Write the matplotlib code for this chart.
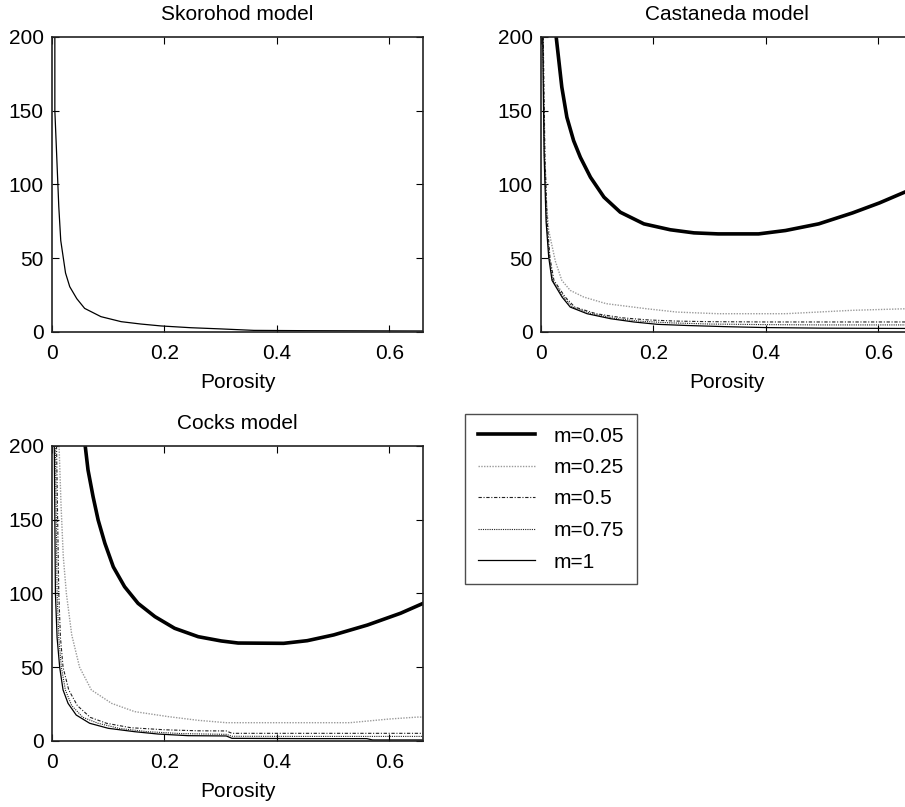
#!/usr/bin/env python3
"""Skorohod / Castaneda / Cocks model curves vs porosity, MATLAB-style panels."""

import matplotlib
matplotlib.use("Agg")
import matplotlib.pyplot as plt

plt.rcParams["font.family"] = ["Liberation Sans", "DejaVu Sans"]
plt.rcParams["font.size"] = 15

# --- Skorohod model (single curve) ---
sk_x = [0.0050, 0.0050, 0.0077, 0.012, 0.0155, 0.024, 0.0315, 0.044, 0.058, 0.087,
        0.123, 0.158, 0.194, 0.247, 0.300, 0.359, 0.45, 0.55, 0.66]
sk_y = [200, 150, 125, 85, 62, 40, 30.7, 22.6, 16, 10.4,
        7, 5.4, 4.1, 2.9, 2.1, 1.1, 0.9, 0.8, 0.7]

# --- Castaneda model ---
ca_x05 = [0.027, 0.037, 0.046, 0.058, 0.070, 0.088, 0.112, 0.141, 0.183, 0.230,
          0.272, 0.315, 0.387, 0.435, 0.494, 0.554, 0.602, 0.653, 0.66]
ca_y05 = [200, 166, 145.6, 129.7, 118.4, 104.9, 91.4, 81.2, 73.3, 69.3,
          67.2, 66.5, 66.5, 68.8, 73.3, 80.7, 87.5, 95.8, 97]
ca_x25 = [0.003, 0.006, 0.009, 0.0137, 0.0255, 0.037, 0.052, 0.076, 0.116, 0.187,
          0.242, 0.315, 0.435, 0.554, 0.653, 0.66]
ca_y25 = [200, 130, 91, 68.8, 48, 35, 28.2, 23.7, 19.2, 15.8,
          13.5, 12.4, 12.4, 14.7, 15.8, 16]
ca_x50 = [0.004, 0.007, 0.011, 0.016, 0.023, 0.043, 0.060, 0.098, 0.145, 0.19,
          0.24, 0.30, 0.40, 0.50, 0.66]
ca_y50 = [200, 120, 75, 50, 35, 23.7, 16.9, 12.4, 9.6, 8.2,
          7.4, 7.0, 6.8, 6.8, 6.8]
ca_x75 = [0.0035, 0.006, 0.010, 0.015, 0.021, 0.040, 0.056, 0.090, 0.135, 0.18,
          0.23, 0.30, 0.40, 0.50, 0.66]
ca_y75 = [200, 120, 75, 50, 35, 23.7, 16.9, 12.4, 9, 7.2,
          6.2, 5.4, 5.0, 4.8, 4.8]
ca_x1 = [0.003, 0.0055, 0.009, 0.0137, 0.0196, 0.0374, 0.052, 0.082, 0.124, 0.165,
         0.207, 0.26, 0.33, 0.40, 0.50, 0.66]
ca_y1 = [200, 120, 75, 50.7, 35, 23.7, 16.9, 12.4, 9, 6.8,
         5.2, 4.4, 3.6, 3.0, 2.6, 2.4]

# --- Cocks model ---
co_x05 = [0.059, 0.064, 0.073, 0.082, 0.094, 0.109, 0.129, 0.153, 0.183, 0.218,
          0.260, 0.301, 0.331, 0.412, 0.454, 0.501, 0.561, 0.620, 0.660]
co_y05 = [200, 183.7, 165.6, 149.8, 134, 118, 104.6, 93.3, 84.3, 76.4,
          70.7, 67.8, 66.4, 66.2, 68, 71.9, 78.6, 86.6, 93.3]
co_x25 = [0.0125, 0.016, 0.020, 0.0255, 0.035, 0.049, 0.070, 0.106, 0.147, 0.207,
          0.26, 0.31, 0.53, 0.60, 0.65, 0.66]
co_y25 = [200, 160, 125, 100, 72, 50, 34.6, 25.5, 19.9, 16.5,
          14, 12.4, 12.4, 14.9, 16.2, 16.2]
co_x50 = [0.008, 0.012, 0.015, 0.0196, 0.0297, 0.045, 0.068, 0.097, 0.14, 0.20,
          0.26, 0.31, 0.32, 0.45, 0.66]
co_y50 = [200, 100, 70, 50, 34.6, 24, 16, 12, 9, 7.6,
          6.9, 6.8, 5.2, 5.2, 5.2]
co_x75 = [0.006, 0.009, 0.012, 0.0166, 0.0237, 0.035, 0.055, 0.082, 0.12, 0.17,
          0.23, 0.31, 0.32, 0.45, 0.66]
co_y75 = [200, 100, 70, 50, 34.6, 24, 16, 12, 8.5, 6.3,
          5.0, 4.5, 3.2, 3.1, 3.1]
co_x1 = [0.004, 0.006, 0.009, 0.0136, 0.0196, 0.0285, 0.043, 0.067, 0.10, 0.147,
         0.189, 0.242, 0.31, 0.32, 0.45, 0.56, 0.57, 0.66]
co_y1 = [200, 100, 70, 50, 34.6, 25.5, 17.6, 12, 8.6, 6.3,
         4.7, 3.6, 3.4, 1.8, 1.6, 1.6, 0.7, 0.7]

labels = ["m=0.05", "m=0.25", "m=0.5", "m=0.75", "m=1"]

# line styles per m (MATLAB-ish)
styles = [
    dict(color="black", lw=2.6, ls="-"),
    dict(color="#9a9a9a", lw=1.0, ls=(0, (1, 1))),
    dict(color="#222222", lw=0.8, ls=(0, (3, 1.5, 1, 1.5))),
    dict(color="#222222", lw=0.8, ls=(0, (1, 1))),
    dict(color="black", lw=0.9, ls="-"),
]


def style_axes(ax, title):
    ax.set_xlim(0, 0.66)
    ax.set_ylim(0, 200)
    ax.set_xticks([0, 0.2, 0.4, 0.6])
    ax.set_xticklabels(["0", "0.2", "0.4", "0.6"])
    ax.set_yticks([0, 50, 100, 150, 200])
    ax.tick_params(direction="in", top=True, right=True, length=5, width=0.8,
                   labelsize=15)
    ax.tick_params(axis="x", pad=9)
    ax.tick_params(axis="y", pad=6)
    for sp in ax.spines.values():
        sp.set_linewidth(1.2)
        sp.set_color("#222222")
    ax.set_title(title, fontsize=15, pad=12.5)
    ax.set_xlabel("Porosity", fontsize=15, labelpad=7)


fig = plt.figure(figsize=(9.05, 8.07), dpi=100)

ax1 = fig.add_axes([0.0575, 0.5886, 0.41, 0.3656])
ax2 = fig.add_axes([0.5978, 0.5886, 0.41, 0.3656])
ax3 = fig.add_axes([0.0575, 0.0818, 0.41, 0.3656])

ax1.plot(sk_x, sk_y, color="black", lw=0.9)
style_axes(ax1, "Skorohod model")

ca = [(ca_x05, ca_y05), (ca_x25, ca_y25), (ca_x50, ca_y50), (ca_x75, ca_y75), (ca_x1, ca_y1)]
for (x, y), st in zip(ca, styles):
    ax2.plot(x, y, **st)
style_axes(ax2, "Castaneda model")

co = [(co_x05, co_y05), (co_x25, co_y25), (co_x50, co_y50), (co_x75, co_y75), (co_x1, co_y1)]
handles = []
for (x, y), st, lab in zip(co, styles, labels):
    h, = ax3.plot(x, y, label=lab, **st)
    handles.append(h)
style_axes(ax3, "Cocks model")

leg = fig.legend(handles, labels, loc="upper left",
                 bbox_to_anchor=(465 / 905, 1 - 414 / 807),
                 fontsize=15, frameon=True, fancybox=False, borderaxespad=0,
                 handlelength=2.75, handletextpad=0.9, labelspacing=0.6,
                 borderpad=0.6)
leg.get_frame().set_edgecolor("#222222")
leg.get_frame().set_linewidth(1.0)

fig.savefig("out.png", dpi=100)
